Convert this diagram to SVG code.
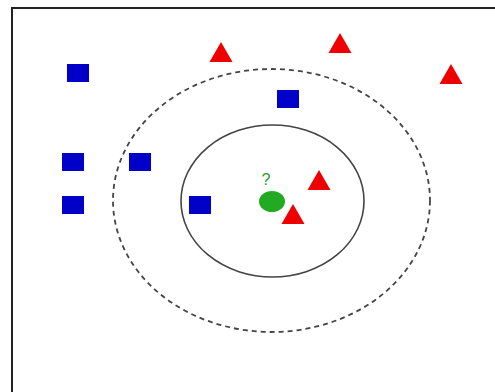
<svg xmlns="http://www.w3.org/2000/svg" width="495" height="392" viewBox="0 0 495 392">
  <defs>
    <style>
      .sq { fill: #0000c8; }
      .tri { fill: #ee0000; }
      .ring { fill: none; stroke: #444; stroke-width: 1.6; }
      .dashed { stroke-dasharray: 5 4; stroke-width: 1.8; }
      .frame { fill: none; stroke: #222; stroke-width: 2; }
      .label { font-family: "Liberation Sans", Arial, sans-serif; font-size: 16px; fill: #2a9a2a; }
    </style>
    <rect id="square" class="sq" x="-11" y="-9" width="22" height="18"/>
    <polygon id="triangle" class="tri" points="0,-10 11.5,10 -11.5,10"/>
  </defs>

  <rect width="495" height="392" fill="#fff"/>
  <!-- frame: only left and top edges fall inside the canvas -->
  <path class="frame" d="M12,392 V8 H495"/>

  <!-- neighbourhood boundaries -->
  <g id="connectors">
    <ellipse class="ring dashed" cx="271.5" cy="200.5" rx="158.5" ry="131.5"/>
    <ellipse class="ring" cx="272.5" cy="201" rx="91.5" ry="76"/>
  </g>

  <!-- class A: squares -->
  <g id="sq1"><use href="#square" x="78" y="73"/></g>
  <g id="sq2"><use href="#square" x="288" y="99"/></g>
  <g id="sq3"><use href="#square" x="73" y="162"/></g>
  <g id="sq4"><use href="#square" x="140" y="162"/></g>
  <g id="sq5"><use href="#square" x="73" y="205"/></g>
  <g id="sq6"><use href="#square" x="200" y="205"/></g>

  <!-- class B: triangles -->
  <g id="tri1"><use href="#triangle" x="221" y="52"/></g>
  <g id="tri2"><use href="#triangle" x="340" y="43"/></g>
  <g id="tri3"><use href="#triangle" x="451" y="74"/></g>
  <g id="tri4"><use href="#triangle" x="319" y="180"/></g>
  <g id="tri5"><use href="#triangle" x="293" y="214"/></g>

  <!-- query point -->
  <g id="query">
    <ellipse cx="272" cy="201.5" rx="13" ry="10.5" fill="#22aa22"/>
    <text class="label" x="266" y="185" text-anchor="middle">?</text>
  </g>
</svg>
